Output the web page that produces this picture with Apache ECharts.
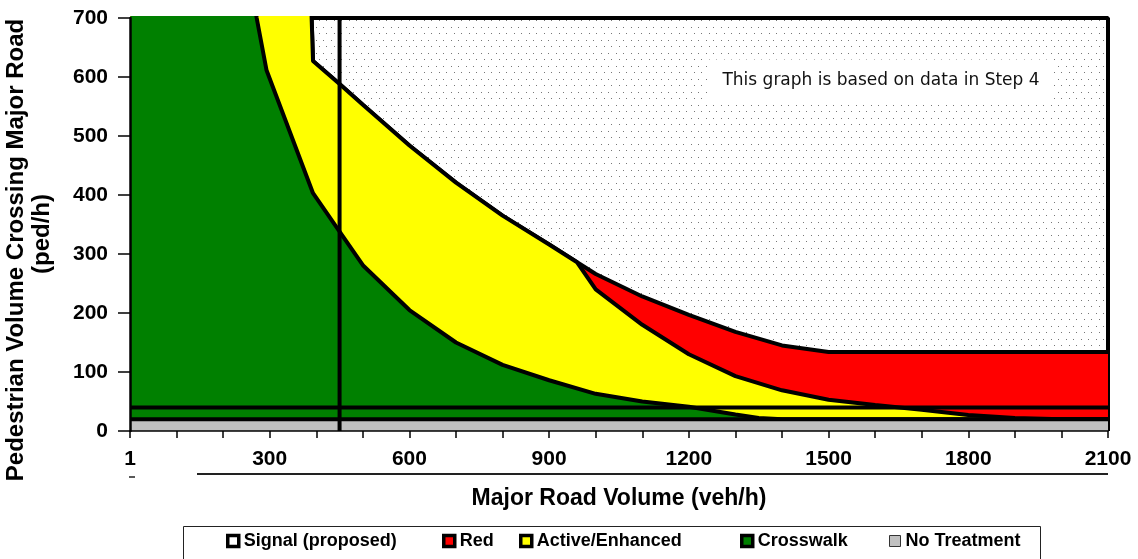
<!DOCTYPE html>
<html><head><meta charset="utf-8">
<script src="https://cdn.jsdelivr.net/npm/echarts@6/dist/echarts.min.js"></script>
<style>html,body{margin:0;padding:0;background:#fff}#c{width:1138px;height:559px}</style>
</head><body><div id="c"></div>
<script>
// ---- data ----
const xLabelValues = [0, 300, 600, 900, 1200, 1500, 1800, 2100];
const xLabelTexts  = ['1', '300', '600', '900', '1200', '1500', '1800', '2100'];

// dotted "Signal (proposed)" region outline
const signalX = [390, 2100, 2100];
const signalY = [700, 700, 0];

// top of the red region (= signal boundary)
const redX = [1, 389, 390, 393, 450, 500, 600, 700, 800, 900, 960, 1000, 1100, 1200, 1300, 1400, 1500, 2100];
const redY = [800, 800, 700, 627, 588, 553, 484, 421, 365, 316, 286, 266, 228, 197, 168, 145, 134, 134];

// top of the yellow (Active/Enhanced) region
const activeX = [1, 389, 390, 393, 450, 500, 600, 700, 800, 900, 960, 1000, 1100, 1200, 1300, 1400, 1500, 1600, 1700, 1800, 1900, 2000, 2100];
const activeY = [800, 800, 700, 627, 588, 553, 484, 421, 365, 316, 286, 240, 180, 130, 93, 69, 53, 44, 36, 27, 22, 20, 20];

// top of the green (Crosswalk) region
const crossX = [1, 255, 272, 293, 393, 443, 500, 600, 700, 800, 900, 1000, 1100, 1200, 1300, 1350, 1400, 2100];
const crossY = [800, 790, 700, 612, 403, 346, 281, 205, 150, 112, 86, 63, 50, 41, 28, 22, 20, 20];

// No Treatment band
const noTreatX = [0, 2100];
const noTreatY = [20, 20];

// reference lines
const thresholdY = 40;
const proposedX = 450;

// legend entries
const legendNames = ['Signal (proposed)', 'Red', 'Active/Enhanced', 'Crosswalk', 'No Treatment'];
const legendFills = ['#ffffff', '#ff0000', '#ffff00', '#008000', '#c0c0c0'];
const legendLeft  = [226, 442, 519, 740, 889];

const zip = (xs, ys) => xs.map((x, i) => [x, ys[i]]);

// dotted pattern
const pc = document.createElement('canvas');
pc.width = 15; pc.height = 13;
const g = pc.getContext('2d');
g.fillStyle = '#ffffff'; g.fillRect(0, 0, 15, 13);
g.fillStyle = '#777777';
[[1,1],[8,1],[4,7],[11,7]].forEach(p => g.fillRect(p[0], p[1], 1, 1));

const FONT = '"Liberation Sans", Arial, sans-serif';
const chart = echarts.init(document.getElementById('c'), null, {renderer: 'canvas'});

function area(name, data, fill, z) {
  return {
    name, type: 'line', data, symbol: 'none', z,
    itemStyle: {color: fill},
    lineStyle: {color: '#000', width: 4},
    areaStyle: {color: fill, opacity: 1, origin: 'start'},
    emphasis: {disabled: true}
  };
}

const legends = legendNames.map((n, i) => ({
  left: legendLeft[i], top: 532, padding: 0, z: 10,
  itemWidth: 11, itemHeight: 11, icon: 'rect', selectedMode: false,
  textStyle: {color: '#000', fontFamily: FONT, fontWeight: 'bold', fontSize: 18},
  data: [{name: n, itemStyle: {color: legendFills[i],
          borderColor: i === 4 ? '#333' : '#000', borderWidth: i === 4 ? 1 : 3.5}}]
}));

chart.setOption({
  animation: false,
  grid: {left: 130, right: 30, top: 18, bottom: 128},
  xAxis: {
    type: 'value', min: 0, max: 2100, interval: 100, z: 10,
    axisLine: {lineStyle: {color: '#000', width: 1.5}},
    axisTick: {length: 7, lineStyle: {color: '#000', width: 1.5}},
    splitLine: {show: false},
    axisLabel: {
      margin: 18, color: '#000', fontFamily: FONT, fontWeight: 'bold', fontSize: 21,
      formatter: v => { const i = xLabelValues.indexOf(v); return i >= 0 ? xLabelTexts[i] : ''; }
    },
    name: 'Major Road Volume (veh/h)', nameLocation: 'middle', nameGap: 56,
    nameTextStyle: {color: '#000', fontFamily: FONT, fontWeight: 'bold', fontSize: 23}
  },
  yAxis: {
    type: 'value', min: 0, max: 700, interval: 100, z: 10,
    axisLine: {show: true, lineStyle: {color: '#000', width: 2.5}},
    axisTick: {show: true, length: 12, lineStyle: {color: '#000', width: 1.5}},
    splitLine: {show: false},
    axisLabel: {margin: 22, color: '#000', fontFamily: FONT, fontWeight: 'bold', fontSize: 21}
  },
  legend: legends,
  series: [
    area('Signal (proposed)', zip(signalX, signalY), {image: pc, repeat: 'repeat'}, 2),
    area('Red', zip(redX, redY), '#ff0000', 3),
    area('Active/Enhanced', zip(activeX, activeY), '#ffff00', 4),
    area('Crosswalk', zip(crossX, crossY), '#008000', 5),
    area('No Treatment', zip(noTreatX, noTreatY), '#c0c0c0', 6),
    {type: 'line', data: [[0, thresholdY], [2100, thresholdY]], symbol: 'none', z: 7,
     lineStyle: {color: '#000', width: 4}, emphasis: {disabled: true}},
    {type: 'line', data: [[proposedX, 0], [proposedX, 700]], symbol: 'none', z: 8,
     lineStyle: {color: '#000', width: 4}, emphasis: {disabled: true}}
  ],
  graphic: [
    {type: 'text', x: 16, y: 250, rotation: Math.PI / 2, z: 20,
     style: {text: 'Pedestrian Volume Crossing Major Road', font: 'bold 24px ' + FONT, fill: '#000',
             align: 'center', verticalAlign: 'middle', textAlign: 'center', textVerticalAlign: 'middle'}},
    {type: 'text', x: 42, y: 234, rotation: Math.PI / 2, z: 20,
     style: {text: '(ped/h)', font: 'bold 24px ' + FONT, fill: '#000',
             align: 'center', verticalAlign: 'middle', textAlign: 'center', textVerticalAlign: 'middle'}},
    {type: 'text', x: 881, y: 81, z: 20,
     style: {text: 'This graph is based on data in Step 4', font: '17px "DejaVu Sans", sans-serif', fill: '#111',
             align: 'center', verticalAlign: 'middle', textAlign: 'center', textVerticalAlign: 'middle',
             backgroundColor: '#fff', padding: [13, 14]}},
    {type: 'line', z: 20, shape: {x1: 197, y1: 474, x2: 1108, y2: 474}, style: {stroke: '#222', lineWidth: 2}},
    {type: 'line', z: 20, shape: {x1: 129, y1: 477, x2: 135, y2: 477}, style: {stroke: '#222', lineWidth: 1.5}},
    {type: 'rect', z: 0, shape: {x: 183.5, y: 526.5, width: 857, height: 60},
     style: {fill: '#fff', stroke: '#222', lineWidth: 1}}
  ]
});
</script></body></html>
